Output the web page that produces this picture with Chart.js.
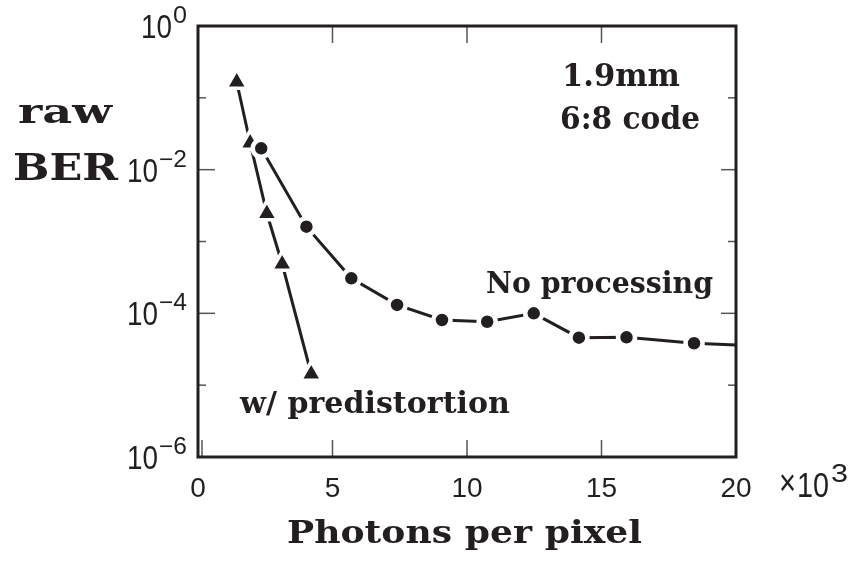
<!DOCTYPE html>
<html><head><meta charset="utf-8">
<script src="https://cdn.jsdelivr.net/npm/chart.js@4/dist/chart.umd.min.js"></script>
<style>html,body{margin:0;padding:0;background:#fff;overflow:hidden}canvas{display:block}</style>
</head><body>
<canvas id="c" width="857" height="563"></canvas>
<script>
// ---- data ----
const predistX   = [1.44, 1.94, 2.56, 3.13, 4.21];              // photons per pixel (x10^3)
const predistBER = [0.166, 0.0235, 0.00245, 0.000486, 0.0000143];
const noProcX    = [2.35, 4.03, 5.70, 7.40, 9.07, 10.75, 12.48, 14.16, 15.93, 18.44, 20];
const noProcBER  = [0.0198, 0.00161, 0.000307, 0.000131, 0.0000807, 0.0000764, 0.0001, 0.0000458, 0.0000463, 0.0000383, 0.0000362];
const xTicks      = [0, 5, 10, 15, 20];
const xTickLabels = ['0', '5', '10', '15', '20'];
const yMajorExps  = [0, -2, -4, -6];
const yMinorExps  = [-1, -3, -5];
const seriesLabels = ['w/ predistortion', 'No processing'];

const INK = '#231f20';
const toPts = (xs, ys) => xs.map((x, i) => ({x, y: ys[i]}));
const lastNP = noProcX.length - 1;

const overlay = {
  id: 'overlay',
  afterDatasetsDraw(chart) {
    const ctx = chart.ctx, a = chart.chartArea;
    const xs = chart.scales.x, ys = chart.scales.y;
    ctx.save();
    const seg = (x1, y1, x2, y2) => { ctx.beginPath(); ctx.moveTo(x1, y1); ctx.lineTo(x2, y2); ctx.stroke(); };
    // inward ticks
    ctx.strokeStyle = '#555'; ctx.lineWidth = 1.5;
    xTicks.forEach(v => {
      if (v >= 20) return;
      let px = xs.getPixelForValue(v);
      if (v === 0) px += 4;
      seg(px, a.bottom, px, a.bottom - 17);
      if (v > 0) seg(px, a.top, px, a.top + 17);
    });
    yMajorExps.forEach(e => {
      if (e === 0 || e === -6) return;
      const py = ys.getPixelForValue(Math.pow(10, e));
      seg(a.left, py, a.left + 17, py);
      seg(a.right, py, a.right - 15, py);
    });
    yMinorExps.forEach(e => {
      const py = ys.getPixelForValue(Math.pow(10, e));
      seg(a.left, py, a.left + 8, py);
      seg(a.right, py, a.right - 8, py);
    });
    // frame
    ctx.strokeStyle = INK; ctx.lineWidth = 3;
    ctx.strokeRect(a.left, a.top, a.right - a.left, a.bottom - a.top);

    ctx.fillStyle = INK;
    ctx.textBaseline = 'alphabetic';
    // text drawn with a horizontal fit to the reference width
    const fit = (txt, left, base, font, width) => {
      ctx.font = font;
      const w = ctx.measureText(txt).width;
      ctx.save(); ctx.translate(left, base); ctx.scale(width / w, 1);
      ctx.textAlign = 'left'; ctx.fillText(txt, 0, 0); ctx.restore();
    };
    const SANS = '"Liberation Sans"';
    // y tick labels 10^e
    yMajorExps.forEach(e => {
      const py = ys.getPixelForValue(Math.pow(10, e));
      const sup = e === 0 ? '0' : '\u2212' + (-e);
      const sw = e === 0 ? 14 : 28;
      const right = a.left - 11;
      fit(sup, right - sw, py - 3, '23px ' + SANS, sw);
      fit('10', right - sw - 32, py + 12, '34px ' + SANS, 31);
    });
    // x tick labels
    ctx.font = '28px ' + SANS;
    ctx.textAlign = 'center';
    xTicks.forEach((v, i) => {
      ctx.fillText(xTickLabels[i], xs.getPixelForValue(v), 497);
    });
    // x10^3
    fit('\u00d7', 779, 495, '36px ' + SANS, 17);
    fit('10', 797, 497, '35px ' + SANS, 32);
    fit('3', 831, 482, '26px ' + SANS, 17);

    const SERIF = '"DejaVu Serif"';
    fit('raw', 18, 123, 'bold 33px ' + SERIF, 94);
    fit('BER', 13, 180, 'bold 37px ' + SERIF, 105);
    fit('1.9mm', 562, 86, 'bold 32px ' + SERIF, 118);
    fit('6:8 code', 560, 129, 'bold 32px ' + SERIF, 140);
    fit(seriesLabels[1], 486, 293, 'bold 30px ' + SERIF, 227);
    fit(seriesLabels[0], 240, 413, 'bold 30px ' + SERIF, 270);
    fit('Photons per pixel', 287, 543, 'bold 32px ' + SERIF, 355);
    ctx.restore();
  }
};

new Chart(document.getElementById('c'), {
  type: 'scatter',
  data: {
    datasets: [
      { label: seriesLabels[0], data: toPts(predistX, predistBER), showLine: true,
        borderColor: INK, borderWidth: 3, tension: 0, order: 1,
        pointStyle: 'triangle', pointRadius: 12.5, pointBackgroundColor: INK,
        pointBorderColor: '#fff', pointBorderWidth: 3.5 },
      { label: seriesLabels[1], data: toPts(noProcX, noProcBER), showLine: true,
        borderColor: INK, borderWidth: 3, tension: 0, order: 0,
        pointStyle: 'circle', pointRadius: c => c.dataIndex === lastNP ? 0 : 8.5,
        pointBackgroundColor: INK, pointBorderColor: '#fff',
        pointBorderWidth: c => c.dataIndex === lastNP ? 0 : 4.5 }
    ]
  },
  options: {
    responsive: false, animation: false, devicePixelRatio: 1,
    layout: { padding: { left: 198, right: 121, top: 26, bottom: 106 } },
    plugins: { legend: { display: false }, tooltip: { enabled: false } },
    scales: {
      x: { type: 'linear', min: 0, max: 20, display: false },
      y: { type: 'logarithmic', min: 1e-6, max: 1, display: false }
    }
  },
  plugins: [overlay]
});
</script>
</body></html>
